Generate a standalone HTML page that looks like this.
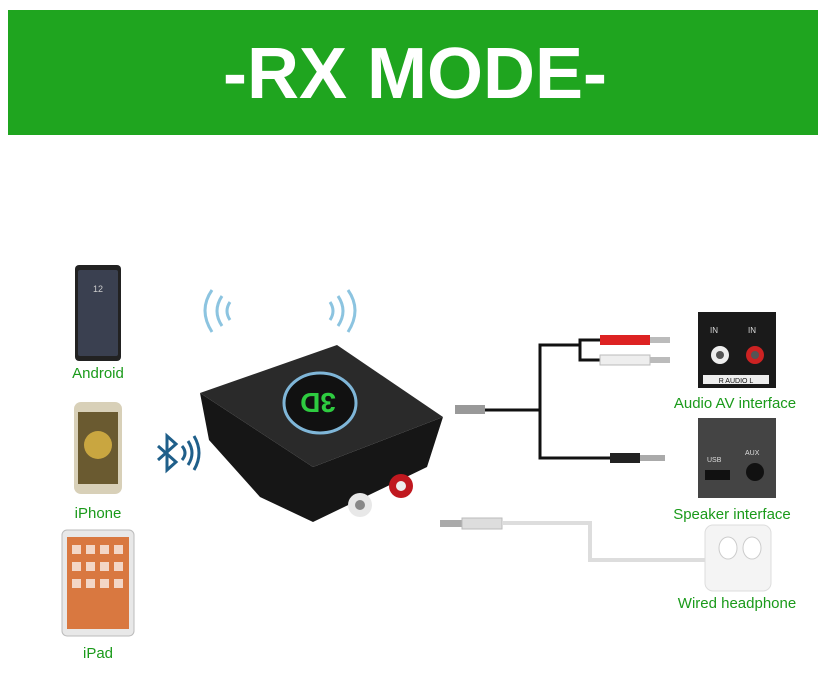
<!DOCTYPE html>
<html><head><meta charset="utf-8"><style>
html,body{margin:0;padding:0;background:#fff;width:830px;height:690px;overflow:hidden}
svg{display:block}
</style></head><body>
<svg width="830" height="690" viewBox="0 0 830 690" font-family="Liberation Sans, sans-serif">
<rect x="0" y="0" width="830" height="690" fill="#fff"/>
<rect x="8" y="10" width="810" height="125" fill="#1fa51f"/>
<text x="415" y="98" font-size="72" font-weight="bold" fill="#fff" text-anchor="middle">-RX MODE-</text>

<!-- Android phone -->
<rect x="75" y="265" width="46" height="96" rx="4" fill="#222"/>
<rect x="78" y="270" width="40" height="86" rx="2" fill="#3a4050"/>
<text x="98" y="292" font-size="9" fill="#ccc" text-anchor="middle">12</text>
<text x="98" y="378" font-size="15" fill="#1a9a1a" text-anchor="middle">Android</text>
<!-- iPhone -->
<rect x="74" y="402" width="48" height="92" rx="7" fill="#d8d0b8"/>
<rect x="78" y="412" width="40" height="72" fill="#6a5a30"/>
<circle cx="98" cy="445" r="14" fill="#c9a640"/>
<text x="98" y="518" font-size="15" fill="#1a9a1a" text-anchor="middle">iPhone</text>
<!-- iPad -->
<rect x="62" y="530" width="72" height="106" rx="5" fill="#e8e8e8" stroke="#bbb"/>
<rect x="67" y="537" width="62" height="92" fill="#d97840"/>
<g fill="#fff" opacity="0.7">
<rect x="72" y="545" width="9" height="9"/><rect x="86" y="545" width="9" height="9"/><rect x="100" y="545" width="9" height="9"/><rect x="114" y="545" width="9" height="9"/>
<rect x="72" y="562" width="9" height="9"/><rect x="86" y="562" width="9" height="9"/><rect x="100" y="562" width="9" height="9"/><rect x="114" y="562" width="9" height="9"/>
<rect x="72" y="579" width="9" height="9"/><rect x="86" y="579" width="9" height="9"/><rect x="100" y="579" width="9" height="9"/><rect x="114" y="579" width="9" height="9"/>
</g>
<text x="98" y="658" font-size="15" fill="#1a9a1a" text-anchor="middle">iPad</text>

<!-- bluetooth icon -->
<g stroke="#1f5f8a" stroke-width="3" fill="none">
<path d="M158 446 L176 462 L167 470 L167 436 L176 444 L158 460"/>
<path d="M182 446 Q188 453 182 460"/><path d="M188 441 Q196 453 188 465"/><path d="M194 436 Q204 453 194 470"/>
</g>
<!-- wifi arcs -->
<g stroke="#8cc4e0" stroke-width="3" fill="none">
<path d="M212 290 Q198 310 212 332"/><path d="M222 296 Q212 311 222 326"/><path d="M230 302 Q224 311 230 320"/>
<path d="M348 290 Q362 310 348 332"/><path d="M338 296 Q348 311 338 326"/><path d="M330 302 Q336 311 330 320"/>
</g>

<!-- device -->
<polygon points="200,393 209,440 260,497 313,522 427,467 443,417 313,467" fill="#161616"/>
<polygon points="200,393 337,345 443,417 313,467" fill="#2a2a2a"/>
<ellipse cx="320" cy="403" rx="36" ry="30" fill="#111" stroke="#7fb6d8" stroke-width="3"/>
<text x="318" y="413" font-size="28" font-weight="bold" fill="#2ecc40" text-anchor="middle" transform="rotate(180 318 403)">3D</text>
<circle cx="401" cy="486" r="12" fill="#c0181f"/><circle cx="401" cy="486" r="5" fill="#eee"/>
<circle cx="360" cy="505" r="12" fill="#e8e8e8"/><circle cx="360" cy="505" r="5" fill="#888"/>

<!-- cables -->
<g fill="none" stroke="#111" stroke-width="3">
<path d="M480 410 L540 410 L540 345 L580 345 L580 340 L600 340"/>
<path d="M580 345 L580 360 L600 360"/>
<path d="M540 410 L540 458 L610 458"/>
</g>
<rect x="455" y="405" width="30" height="9" fill="#999"/>
<rect x="600" y="335" width="50" height="10" fill="#d22"/><rect x="650" y="337" width="20" height="6" fill="#bbb"/>
<rect x="600" y="355" width="50" height="10" fill="#eee" stroke="#bbb"/><rect x="650" y="357" width="20" height="6" fill="#bbb"/>
<rect x="610" y="453" width="30" height="10" fill="#222"/><rect x="640" y="455" width="25" height="6" fill="#aaa"/>
<rect x="440" y="520" width="22" height="7" fill="#aaa"/><rect x="462" y="518" width="40" height="11" fill="#ddd" stroke="#bbb"/>
<path d="M502 523 L590 523 L590 560 L705 560" fill="none" stroke="#ddd" stroke-width="4"/>

<!-- right boxes -->
<rect x="698" y="312" width="78" height="76" fill="#1a1a1a"/>
<circle cx="720" cy="355" r="9" fill="#eee"/><circle cx="720" cy="355" r="4" fill="#555"/>
<circle cx="755" cy="355" r="9" fill="#c22"/><circle cx="755" cy="355" r="4" fill="#555"/>
<rect x="703" y="375" width="66" height="9" fill="#eee"/>
<text x="736" y="383" font-size="7" fill="#111" text-anchor="middle">R AUDIO L</text>
<text x="710" y="333" font-size="8" fill="#ddd">IN</text><text x="748" y="333" font-size="8" fill="#ddd">IN</text>
<text x="735" y="408" font-size="15" fill="#1a9a1a" text-anchor="middle">Audio AV interface</text>

<rect x="698" y="418" width="78" height="80" fill="#444"/>
<rect x="705" y="470" width="25" height="10" fill="#111"/><circle cx="755" cy="472" r="9" fill="#111"/>
<text x="707" y="462" font-size="7" fill="#ddd">USB</text><text x="745" y="455" font-size="7" fill="#ddd">AUX</text>
<text x="732" y="519" font-size="15" fill="#1a9a1a" text-anchor="middle">Speaker interface</text>

<rect x="705" y="525" width="66" height="66" rx="8" fill="#f4f4f4" stroke="#ddd"/>
<ellipse cx="728" cy="548" rx="9" ry="11" fill="#fff" stroke="#ccc"/><ellipse cx="752" cy="548" rx="9" ry="11" fill="#fff" stroke="#ccc"/>
<text x="737" y="608" font-size="15" fill="#1a9a1a" text-anchor="middle">Wired headphone</text>
</svg>
</body></html>
